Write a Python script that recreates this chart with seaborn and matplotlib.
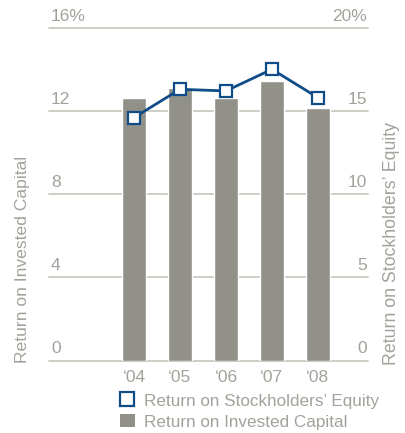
import matplotlib.pyplot as plt
import matplotlib.transforms as mtransforms
from matplotlib.lines import Line2D
from matplotlib.patches import Patch
import pandas as pd
import seaborn as sns

years = ['\u201804', '\u201805', '\u201806', '\u201807', '\u201808']
ric = [12.6, 13.1, 12.6, 13.45, 12.15]      # Return on Invested Capital (left axis, %)
rse = [14.6, 16.3, 16.2, 17.5, 15.8]        # Return on Stockholders' Equity (right axis, %)
left_ticks = [0, 4, 8, 12, 16]
right_ticks = [0, 5, 10, 15, 20]

bar_color = '#929189'
line_color = '#0f4c88'
grid_color = '#c9c9c2'
text_color = '#a2a29b'

sns.set_style('white')
plt.rcParams['font.family'] = ['Liberation Sans', 'DejaVu Sans']

df = pd.DataFrame({'year': years, 'ric': ric, 'rse': rse})

fig = plt.figure(figsize=(4.05, 4.33), dpi=100)
ax = fig.add_axes([0.121, 0.1674, 0.7876, 0.7686])

for t in left_ticks:
    ax.axhline(t, color=grid_color, lw=1.3, zorder=0, clip_on=False)

sns.barplot(data=df, x='year', y='ric', color=bar_color, width=0.52,
            saturation=1, ax=ax, zorder=2)

ax2 = ax.twinx()
sns.pointplot(data=df, x='year', y='rse', color=line_color, markers='s',
              errorbar=None, ax=ax2, markersize=8, markerfacecolor='white',
              markeredgecolor=line_color, markeredgewidth=1.6, linewidth=2)

ax.set_ylim(0, 16)
ax2.set_ylim(0, 20)
ax.set_xlim(-1.85, 5.09)

for a in (ax, ax2):
    for s in a.spines.values():
        s.set_visible(False)
    a.set_yticks([])
    a.set_ylabel('')
    a.set_xlabel('')

ax.tick_params(axis='x', length=0, pad=7, labelsize=12.5, labelcolor=text_color)

trans_l = mtransforms.blended_transform_factory(ax.transAxes, ax.transData)
for t in left_ticks:
    lab = f'{t}%' if t == left_ticks[-1] else f'{t}'
    ax.text(0.006, t + 0.2, lab, transform=trans_l, ha='left', va='bottom',
            fontsize=12.5, color=text_color)
trans_r = mtransforms.blended_transform_factory(ax2.transAxes, ax2.transData)
for t in right_ticks:
    lab = f'{t}%' if t == right_ticks[-1] else f'{t}'
    ax2.text(0.997, t + 0.25, lab, transform=trans_r, ha='right', va='bottom',
             fontsize=12.5, color=text_color)

fig.text(23 / 405, 1 - 363 / 433, 'Return on Invested Capital', rotation=90,
         ha='center', va='bottom', fontsize=12.6, color=text_color)
fig.text(391 / 405, 1 - 365 / 433, 'Return on Stockholders\u2019 Equity', rotation=90,
         ha='center', va='bottom', fontsize=12.8, color=text_color)

handles = [Line2D([], [], marker='s', linestyle='none', markersize=10,
                  markerfacecolor='white', markeredgecolor=line_color, markeredgewidth=1.6),
           Patch(facecolor=bar_color, edgecolor='none')]
fig.legend(handles, ['Return on Stockholders\u2019 Equity', 'Return on Invested Capital'],
           loc='upper left', bbox_to_anchor=(120 / 405, 1 - 393 / 433), frameon=False,
           fontsize=12.3, labelcolor=text_color, handlelength=0.85, handleheight=0.85,
           handletextpad=0.55, labelspacing=0.3, borderaxespad=0, borderpad=0)

fig.savefig('out.png', dpi=100)
